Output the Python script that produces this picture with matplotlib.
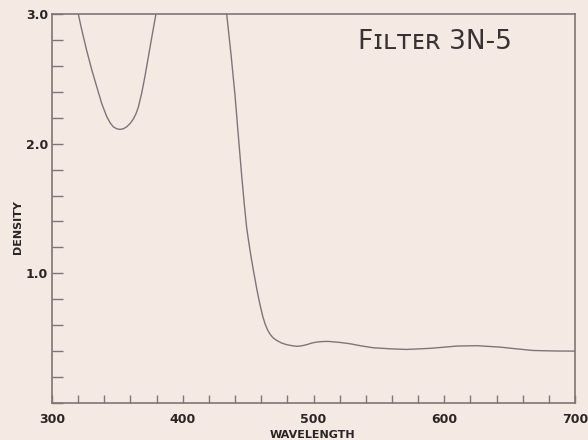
import numpy as np
import matplotlib
matplotlib.use("Agg")
import matplotlib.pyplot as plt

# Data (wavelength in nm, density)
band1_wavelength = [320.1, 322.7, 326.5, 330.4, 334.2, 338.0, 341.8, 344.5, 346.9, 349.5, 352.0,
                    354.6, 357.1, 359.7, 362.2, 364.2, 366.0, 368.6, 371.1, 373.7, 376.3, 379.5]
band1_density = [3.0, 2.88, 2.72, 2.57, 2.44, 2.31, 2.21, 2.16, 2.13, 2.115, 2.11,
                 2.115, 2.13, 2.155, 2.19, 2.23, 2.28, 2.39, 2.52, 2.67, 2.82, 3.0]

band2_wavelength = [433.6, 437, 440.0, 442.6, 445.1, 447.0, 448.9, 450.2, 451.4, 452.7, 454.0,
                    456.6, 458.1, 459.6, 461.2, 462.9, 464.8, 466.7, 469.0, 471.8, 475.5, 479.5,
                    483.5, 487.2, 491.0, 494.8, 498.6, 502.4, 507.0, 511.3, 519.5, 527.9, 536.8,
                    545.7, 558.5, 571.3, 590, 609.5, 625, 642.6, 655, 667.8, 685, 700]
band2_density = [3.0, 2.68, 2.37, 2.05, 1.75, 1.54, 1.35, 1.26, 1.18, 1.10, 1.025,
                 0.88, 0.805, 0.735, 0.668, 0.612, 0.565, 0.532, 0.503, 0.483, 0.463, 0.45,
                 0.442, 0.437, 0.441, 0.45, 0.462, 0.47, 0.474, 0.475, 0.468, 0.457, 0.44,
                 0.426, 0.418, 0.413, 0.422, 0.439, 0.442, 0.431, 0.418, 0.405, 0.401, 0.40]

x_tick_labels = ["300", "400", "500", "600", "700"]
y_tick_labels = ["1.0", "2.0", "3.0"]
title_text = "Fɪʟᴛᴇʀ 3N-5"

bg = "#f5e9e4"
ink = "#2b2424"
line_c = "#7f7575"

fig = plt.figure(figsize=(5.88, 4.40), dpi=100, facecolor=bg)
ax = fig.add_axes([52/588, 1-403/440, (575-52)/588, (403-14)/440])
ax.set_facecolor(bg)

ax.plot(band1_wavelength, band1_density, color=line_c, lw=1.0, solid_capstyle="round",
        solid_joinstyle="round")
ax.plot(band2_wavelength, band2_density, color=line_c, lw=1.0, solid_capstyle="round",
        solid_joinstyle="round")

ax.set_xlim(300, 700)
ax.set_ylim(0, 3.0)

ax.set_xticks(np.arange(300, 701, 100))
ax.set_xticklabels(x_tick_labels)
ax.set_xticks(np.arange(300, 701, 20), minor=True)
ax.set_yticks([1.0, 2.0, 3.0])
ax.set_yticklabels(y_tick_labels)
ax.set_yticks(np.arange(0, 3.01, 0.2), minor=True)

ax.tick_params(axis="x", which="both", direction="in", length=6, width=1.0, color=line_c,
               labelsize=9, labelcolor=ink, pad=7)
ax.tick_params(axis="y", which="both", direction="in", length=8, width=1.0, color=line_c,
               labelsize=9, labelcolor=ink, pad=3)
for lab in ax.get_xticklabels() + ax.get_yticklabels():
    lab.set_fontweight("bold")

for s in ax.spines.values():
    s.set_color(line_c)
    s.set_linewidth(1.2)

fig.text(312/588, 1-435/440, "WAVELENGTH", ha="center", va="center",
         fontsize=8, fontweight="bold", color=ink)
fig.text(18/588, 1-227/440, "DENSITY", ha="center", va="center", rotation=90,
         fontsize=8, fontweight="bold", color=ink)

fig.text(435/588, 1-42/440, title_text, ha="center", va="center",
         fontsize=19, color="#3a3232")

fig.savefig("out.png", dpi=100, facecolor=bg)
